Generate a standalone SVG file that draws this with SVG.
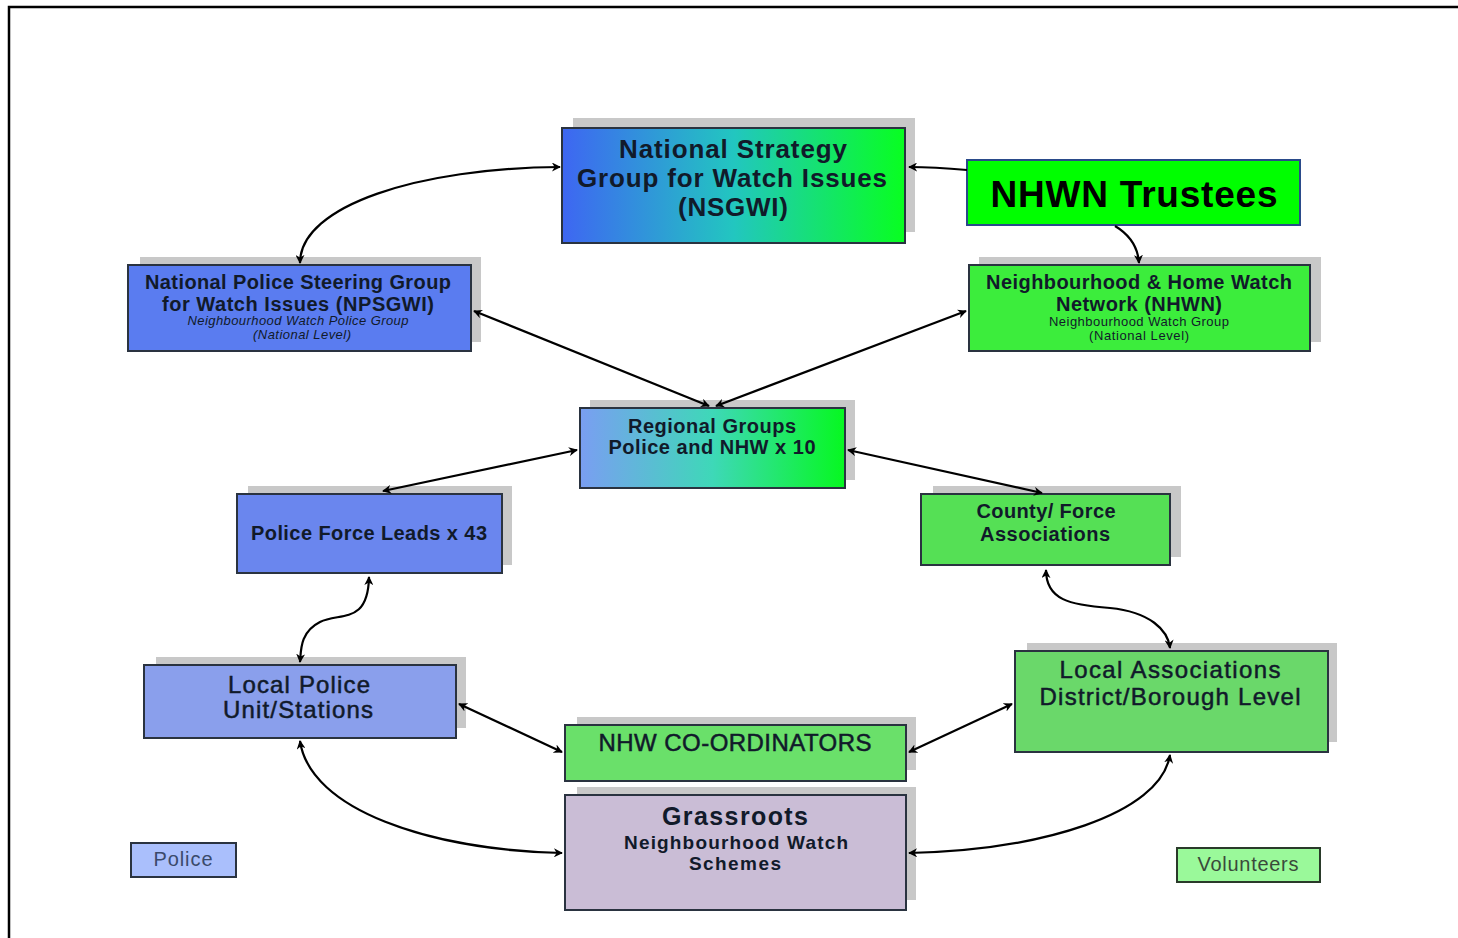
<svg xmlns="http://www.w3.org/2000/svg" width="1458" height="938" viewBox="0 0 1458 938">
<defs>
<linearGradient id="gNat" x1="0" y1="0" x2="1" y2="0">
<stop offset="0" stop-color="#3e66f2"/><stop offset="0.5" stop-color="#22c6c0"/><stop offset="1" stop-color="#08ff20"/>
</linearGradient>
<linearGradient id="gReg" x1="0" y1="0" x2="1" y2="0">
<stop offset="0" stop-color="#7a9ef2"/><stop offset="0.5" stop-color="#3ed8b8"/><stop offset="1" stop-color="#06f820"/>
</linearGradient>
<marker id="ah" viewBox="0 0 10 10" refX="9" refY="5" markerWidth="9" markerHeight="9" markerUnits="userSpaceOnUse" orient="auto-start-reverse">
<path d="M0,0 L10,5 L0,10 L3,5 Z" fill="#000"/>
</marker>
<style>
.sh{fill:#c8c8c8}
.bx{stroke:#2a3340;stroke-width:2}
.t{font-family:"Liberation Sans",Arial,sans-serif;fill:#111a2a;text-anchor:middle}
.b{font-weight:bold}
.m{stroke:#111a2a;stroke-width:0.5}
.c{fill:none;stroke:#000;stroke-width:2.2;marker-start:url(#ah);marker-end:url(#ah)}
.c1{fill:none;stroke:#000;stroke-width:2.2;marker-end:url(#ah)}
</style>
</defs>
<rect width="1458" height="938" fill="#fff"/>
<path d="M9,938 V7 H1458" fill="none" stroke="#000" stroke-width="2.5"/>

<g id="nsgwi">
<rect class="sh" x="573" y="118" width="342" height="114"/>
<rect class="bx" x="562" y="128" width="343" height="115" fill="url(#gNat)"/>
<text class="t b" x="733" y="158" font-size="26" textLength="228" lengthAdjust="spacing">National Strategy</text>
<text class="t b" x="732" y="187" font-size="26" textLength="310" lengthAdjust="spacing">Group for Watch Issues</text>
<text class="t b" x="733" y="216" font-size="26" textLength="110" lengthAdjust="spacing">(NSGWI)</text>
</g>

<g id="trustees">
<rect x="967" y="160" width="333" height="65" fill="#00ff00" stroke="#2a4a8a" stroke-width="2"/>
<text class="t b" x="1134" y="207" font-size="37" style="fill:#000" textLength="287" lengthAdjust="spacing">NHWN Trustees</text>
</g>

<g id="npsgwi">
<rect class="sh" x="140" y="257" width="341" height="85"/>
<rect class="bx" x="128" y="265" width="343" height="86" fill="#5a7cf0"/>
<text class="t b" x="298" y="289" font-size="20" textLength="306" lengthAdjust="spacing">National Police Steering Group</text>
<text class="t b" x="298" y="311" font-size="20" textLength="272" lengthAdjust="spacing">for Watch Issues (NPSGWI)</text>
<text class="t" x="298" y="325" font-size="13" font-style="italic" textLength="221" lengthAdjust="spacing">Neighbourhood Watch Police Group</text>
<text class="t" x="302" y="339" font-size="13" font-style="italic" textLength="98" lengthAdjust="spacing">(National Level)</text>
</g>

<g id="nhwn">
<rect class="sh" x="979" y="257" width="342" height="85"/>
<rect class="bx" x="969" y="265" width="341" height="86" fill="#3ced3c"/>
<text class="t b" x="1139" y="289" font-size="20" textLength="306" lengthAdjust="spacing">Neighbourhood &amp; Home Watch</text>
<text class="t b" x="1139" y="311" font-size="20" textLength="166" lengthAdjust="spacing">Network (NHWN)</text>
<text class="t" x="1139" y="326" font-size="13" textLength="180" lengthAdjust="spacing">Neighbourhood Watch Group</text>
<text class="t" x="1139" y="340" font-size="13" textLength="100" lengthAdjust="spacing">(National Level)</text>
</g>

<g id="regional">
<rect class="sh" x="590" y="400" width="265" height="80"/>
<rect class="bx" x="580" y="408" width="265" height="80" fill="url(#gReg)"/>
<text class="t b" x="712" y="433" font-size="20" textLength="168" lengthAdjust="spacing">Regional Groups</text>
<text class="t b" x="712" y="454" font-size="20" textLength="207" lengthAdjust="spacing">Police and NHW x 10</text>
</g>

<g id="forceleads">
<rect class="sh" x="248" y="486" width="264" height="79"/>
<rect class="bx" x="237" y="494" width="265" height="79" fill="#6a86ee"/>
<text class="t b" x="369" y="540" font-size="20" textLength="236" lengthAdjust="spacing">Police Force Leads x 43</text>
</g>

<g id="county">
<rect class="sh" x="933" y="486" width="248" height="71"/>
<rect class="bx" x="921" y="494" width="249" height="71" fill="#55e055"/>
<text class="t b" x="1046" y="518" font-size="20" textLength="139" lengthAdjust="spacing">County/ Force</text>
<text class="t b" x="1045" y="541" font-size="20" textLength="130" lengthAdjust="spacing">Associations</text>
</g>

<g id="localpolice">
<rect class="sh" x="156" y="657" width="310" height="71"/>
<rect class="bx" x="144" y="665" width="312" height="73" fill="#8a9fec"/>
<text class="t m" x="299" y="693" font-size="24" textLength="142" lengthAdjust="spacing">Local Police</text>
<text class="t m" x="298" y="718" font-size="24" textLength="150" lengthAdjust="spacing">Unit/Stations</text>
</g>

<g id="localassoc">
<rect class="sh" x="1027" y="643" width="310" height="99"/>
<rect class="bx" x="1015" y="651" width="313" height="101" fill="#6ad86a"/>
<text class="t m" x="1170" y="678" font-size="24" textLength="221" lengthAdjust="spacing">Local Associations</text>
<text class="t m" x="1170" y="705" font-size="24" textLength="261" lengthAdjust="spacing">District/Borough Level</text>
</g>

<g id="coordinators">
<rect class="sh" x="577" y="717" width="339" height="53"/>
<rect class="bx" x="565" y="725" width="341" height="56" fill="#6ae06a"/>
<text class="t m" x="735" y="751" font-size="24" textLength="273" lengthAdjust="spacing">NHW CO-ORDINATORS</text>
</g>

<g id="grassroots">
<rect class="sh" x="577" y="787" width="339" height="113"/>
<rect class="bx" x="565" y="795" width="341" height="115" fill="#cabdd6"/>
<text class="t b" x="735" y="825" font-size="25" textLength="146" lengthAdjust="spacing">Grassroots</text>
<text class="t b" x="736" y="849" font-size="19" textLength="224" lengthAdjust="spacing">Neighbourhood Watch</text>
<text class="t b" x="735" y="870" font-size="19" textLength="92" lengthAdjust="spacing">Schemes</text>
</g>

<g id="legend-police">
<rect x="131" y="843" width="105" height="34" fill="#aabffc" stroke="#2a3340" stroke-width="2"/>
<text class="t" x="183" y="866" font-size="20" style="fill:#3a4a6a" textLength="59" lengthAdjust="spacing">Police</text>
</g>

<g id="legend-volunteers">
<rect x="1177" y="848" width="143" height="34" fill="#9af99a" stroke="#2a3a2a" stroke-width="2"/>
<text class="t" x="1248" y="871" font-size="20" style="fill:#3a4a3a" textLength="101" lengthAdjust="spacing">Volunteers</text>
</g>

<g id="connectors">
<path class="c" d="M300,263 C300,205 420,168 560,167"/>
<path class="c1" d="M967,170 C945,168 925,167 909,167"/>
<path class="c1" d="M1115,226 C1130,235 1138,248 1139,263"/>
<path class="c" d="M474,311 L709,406"/>
<path class="c" d="M966,311 L716,406"/>
<path class="c" d="M577,450 L383,491"/>
<path class="c" d="M848,450 L1042,493"/>
<path class="c" d="M369,577 C368,625 340,612 320,622 C300,632 301,650 300,662"/>
<path class="c" d="M1046,570 C1046,600 1070,605 1110,608 C1150,612 1168,630 1170,648"/>
<path class="c" d="M459,704 L562,752"/>
<path class="c" d="M1012,704 L909,752"/>
<path class="c" d="M300,741 C310,810 430,850 562,853"/>
<path class="c" d="M1170,755 C1160,815 1040,850 909,853"/>
</g>
</svg>
